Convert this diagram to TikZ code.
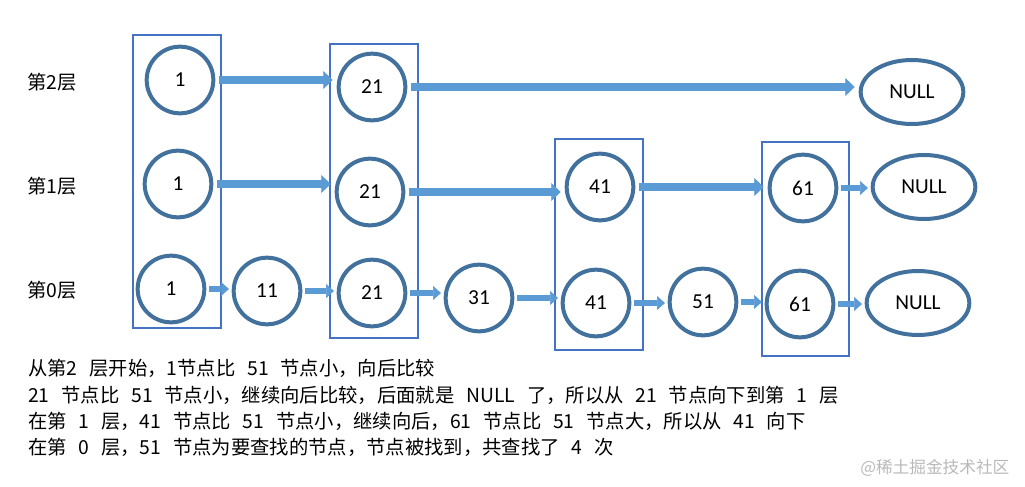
\documentclass[tikz,border=0pt]{standalone}
\usepackage{fontspec}
\setmainfont{Carlito}
\newfontfamily\cjk{Noto Sans CJK SC}
\newfontfamily\notefont[WordSpace=1.65]{Noto Sans CJK SC}
\usetikzlibrary{positioning, arrows.meta, shapes.geometric}

\definecolor{ringblue}{HTML}{41719C}
\definecolor{arrowblue}{HTML}{5B9BD5}
\definecolor{boxblue}{HTML}{4472C4}

\begin{document}
\begin{tikzpicture}[
    x=0.75pt,
    y=-0.75pt,
    elem/.style={circle, draw=ringblue, line width=3pt, minimum size=50pt, inner sep=0pt, font=\fontsize{16}{18}\selectfont},
    nullelem/.style={ellipse, draw=ringblue, line width=3pt, minimum width=77pt, minimum height=48pt, inner sep=0pt, font=\fontsize{16}{18}\selectfont},
    longlink/.style={draw=arrowblue, line width=6pt, shorten <=3pt, shorten >=3pt, -{Triangle[length=7pt, width=13.5pt, line width=0.5pt]}},
    shortlink/.style={draw=arrowblue, line width=5pt, shorten <=2pt, shorten >=2pt, -{Triangle[length=6pt, width=10.5pt, line width=0.5pt]}},
    colbox/.style={draw=boxblue, line width=1.1pt},
    layer/.style={font=\cjk\fontsize{14.5}{16}\selectfont},
    note/.style={anchor=west, inner sep=0pt, font=\notefont\fontsize{14.5}{16}\selectfont},
    every node/.style={font=\small}
]
\useasboundingbox (0,0) rectangle (1025,486);

%---------------- Towers ----------------
\draw[colbox] (133,35) rectangle (221,328);
\draw[colbox] (330,44) rectangle (418,338);
\draw[colbox] (555,139) rectangle (643,350);
\draw[colbox] (762,142) rectangle (849,356);

%---------------- Layer labels ----------------
\node[layer] (L2) at (52,82) {第2层};
\node[layer] (L1) at (52,186) {第1层};
\node[layer] (L0) at (52,290) {第0层};

%---------------- Layer 2 ----------------
\foreach \name/\x/\y/\lab in {r2a/180/80/1, r2b/372/87/21} {
    \node[elem] (\name) at (\x,\y) {\lab};
}
\node[nullelem] (null2) at (912,92) {NULL};

%---------------- Layer 1 ----------------
\foreach \name/\x/\y/\lab in {r1a/178/184/1, r1b/370/192/21, r1c/600/187/41, r1d/803/188/61} {
    \node[elem] (\name) at (\x,\y) {\lab};
}
\node[nullelem] (null1) at (924,187) {NULL};

%---------------- Layer 0 ----------------
\foreach \name/\x/\y/\lab in {r0a/171/289/1, r0b/267/291/11, r0c/372/293/21, r0d/479/298/31,
                              r0e/596/303/41, r0f/703/302/51, r0g/800/304/61} {
    \node[elem] (\name) at (\x,\y) {\lab};
}
\node[nullelem] (null0) at (918,303) {NULL};

%---------------- Links ----------------
\foreach \a/\b in {r2a/r2b, r2b/null2, r1a/r1b, r1b/r1c, r1c/r1d} {
    \draw[longlink] (\a.east) -- (\a.east -| \b.west);
}

\foreach \a/\b in {r1d/null1, r0a/r0b, r0b/r0c, r0c/r0d, r0d/r0e, r0e/r0f, r0f/r0g, r0g/null0} {
    \draw[shortlink] (\a.east) -- (\a.east -| \b.west);
}

%---------------- Notes ----------------
\node[note] (t1) at (28,368) {从第2 层开始，1节点比 51 节点小，向后比较};
\node[note] (t2) at (28,395) {21 节点比 51 节点小，继续向后比较，后面就是 NULL 了，所以从 21 节点向下到第 1 层};
\node[note] (t3) at (28,421) {在第 1 层，41 节点比 51 节点小，继续向后，61 节点比 51 节点大，所以从 41 向下};
\node[note] (t4) at (28,447) {在第 0 层，51 节点为要查找的节点，节点被找到，共查找了 4 次};

\node[anchor=west, inner sep=0pt, text=gray!55, font=\cjk\fontsize{12.5}{14}\selectfont] (mark) at (860,468) {@稀土掘金技术社区};
\end{tikzpicture}
\end{document}
